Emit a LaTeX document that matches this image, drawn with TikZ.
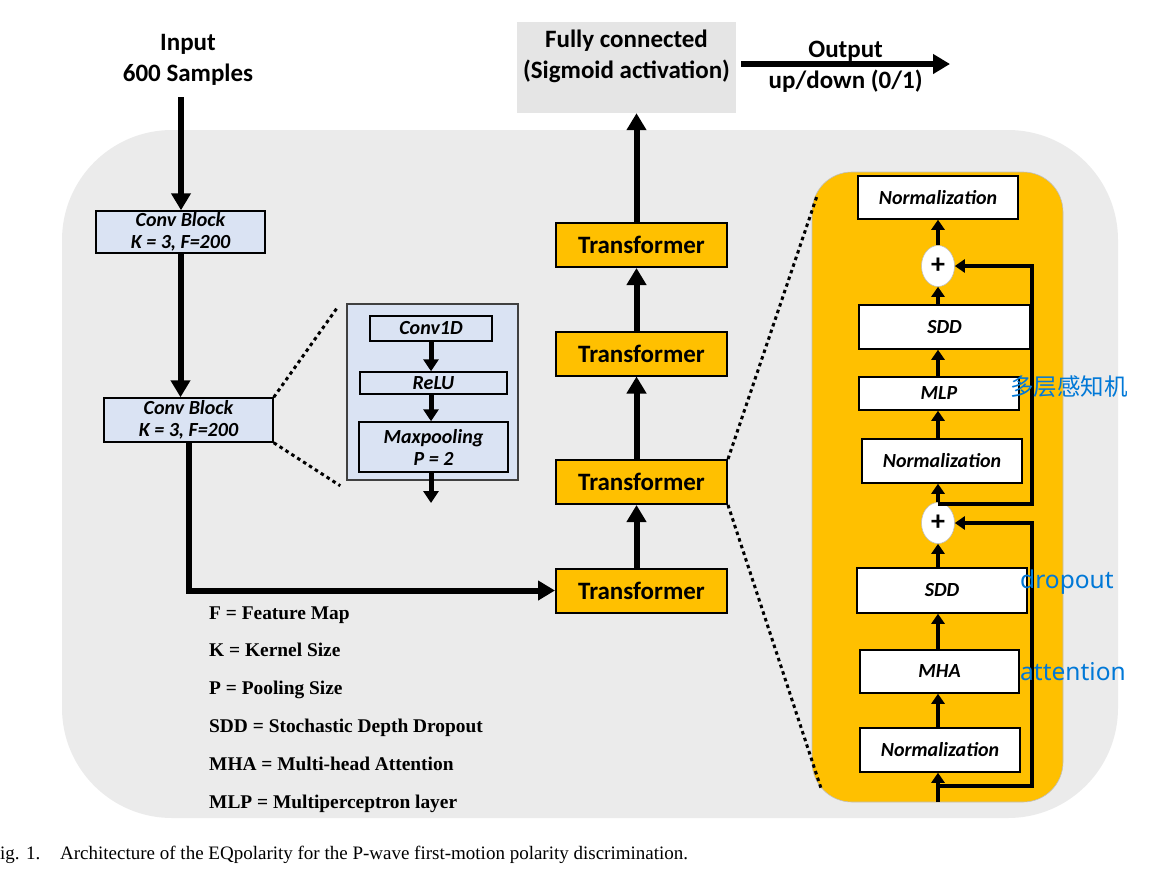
\documentclass[tikz,border=0pt]{standalone}
\usepackage{fontspec}
\setmainfont{Carlito}
\newfontfamily\legendfont{Liberation Serif}
\newfontfamily\cjk{Noto Sans CJK SC}
\newfontfamily\notefont{Noto Sans}
\usetikzlibrary{arrows.meta,shapes.geometric,calc}
\definecolor{bggray}{RGB}{235,235,235}
\definecolor{fcgray}{RGB}{229,229,229}
\definecolor{convblue}{RGB}{218,227,243}
\definecolor{tforange}{RGB}{255,192,0}
\definecolor{noteblue}{RGB}{0,120,215}
\newcommand{\headsize}{\fontsize{25}{31}\selectfont\bfseries}
\newcommand{\boxsize}{\fontsize{20}{22}\selectfont\bfseries\itshape}

\begin{document}
\begin{tikzpicture}[x=1pt, y=-1pt,
  head/.style={font=\headsize, align=center, inner sep=0pt},
  convbox/.style={draw, line width=1.5pt, fill=convblue, font=\boxsize, align=center, inner sep=0pt},
  tfbox/.style={draw, line width=2pt, fill=tforange, font=\headsize, minimum width=171pt, minimum height=44pt, inner sep=0pt},
  layer/.style={draw, line width=1.5pt, fill=white, font=\boxsize, inner sep=0pt},
  plus/.style={ellipse, draw=black!25, line width=0.6pt, fill=white, minimum width=33pt, minimum height=41pt, inner sep=0pt, font=\fontsize{28}{30}\selectfont\bfseries},
  bigarr/.style={line width=6pt, -{Triangle[length=17pt,width=19pt]}},
  midarr/.style={line width=5pt, -{Triangle[length=12pt,width=15pt]}},
  smallarr/.style={line width=4.5pt, -{Triangle[length=10pt,width=13pt]}},
  zoomline/.style={line width=3pt, dash pattern=on 3.5pt off 3.5pt},
  legend/.style={font=\legendfont\bfseries\fontsize{19.4}{22}\selectfont, anchor=base west, inner sep=0pt},
  note/.style={text=noteblue, anchor=west, inner sep=0pt}]
  \useasboundingbox (0,0) rectangle (1167,868);
  \fill[bggray, rounded corners=110pt] (62,130) rectangle (1118,818);

  % input and conv blocks
  \node[head] (inp) at (188,60) {Input\\600 Samples};
  \coordinate (inpar) at (181,97);
  \node[convbox, minimum width=169pt, minimum height=42pt] (conv1) at (180.5,232) {Conv Block\\K = 3, F=200};
  \node[convbox, minimum width=169pt, minimum height=44pt] (conv2) at (188.5,420) {Conv Block\\K = 3, F=200};
  \draw[bigarr] (inpar) -- (inpar |- conv1.north);
  \draw[bigarr] (conv1.south) -- (conv1.south |- conv2.north);

  % inside a conv block
  \node[draw=black!75, line width=1.5pt, fill=convblue, minimum width=171pt, minimum height=176pt, inner sep=0pt] (zoombox) at (432.5,392) {};
  \node[convbox, minimum width=122pt, minimum height=25pt] (c1d) at (431,328.5) {Conv1D};
  \node[convbox, minimum width=147pt, minimum height=22pt] (relu) at (433.5,383) {ReLU};
  \node[convbox, minimum width=149pt, minimum height=50pt] (pool) at (433.5,447) {Maxpooling\\P = 2};
  \coordinate (poolout) at (431,503);
  \draw[midarr] (c1d.south) -- (c1d.south |- relu.north);
  \draw[midarr] (relu.south -| c1d) -- (pool.north -| c1d);
  \draw[midarr] (pool.south -| c1d) -- (poolout);
  \draw[zoomline] (conv2.north east) -- ($(zoombox.north west)+(-8,3)$);
  \draw[zoomline] (conv2.south east) -- ($(zoombox.south west)+(-6,5)$);

  % transformers
  \node[tfbox] (t1) at (641.5,590.5) {Transformer};
  \node[tfbox] (t2) at (641.5,482) {Transformer};
  \node[tfbox] (t3) at (641.5,353.5) {Transformer};
  \node[tfbox] (t4) at (641.5,245) {Transformer};
  \draw[bigarr] (conv2.south) |- (t1.west);
  \foreach \a/\b in {t1/t2,t2/t3,t3/t4}
    \draw[bigarr] ([xshift=-5pt]\a.north) -- ([xshift=-5pt]\b.south);

  % output
  \node[fill=fcgray, minimum width=219pt, minimum height=91pt, inner sep=0pt] (fc) at (626.5,67.5) {};
  \node[head, anchor=north] (fctext) at ([yshift=-7.5pt]fc.north) {Fully connected\\(Sigmoid activation)};
  \draw[bigarr] ([xshift=-5pt]t4.north) -- ([xshift=-5pt]t4.north |- fc.south);
  \coordinate (outend) at (950,64);
  \draw[bigarr] ([shift={(5pt,3.5pt)}]fc.east) -- (outend)
    node[head, midway, above] (outtext) {Output}
    node[head, midway, below=3pt] (outval) {up/down (0/1)};

  % transformer layer
  \node[fill=tforange, draw=black!25, line width=0.6pt, rounded corners=40pt, minimum width=251pt, minimum height=630pt, inner sep=0pt] (panel) at (937.5,487) {};
  \node[layer, minimum width=160pt, minimum height=44pt] (norm1) at (940,750) {Normalization};
  \node[layer, minimum width=159pt, minimum height=43pt] (mha) at (939.5,671.5) {MHA};
  \node[layer, minimum width=170pt, minimum height=45pt] (sdd1) at (942,590.5) {SDD};
  \node[plus] (p1) at (938,523) {+};
  \node[layer, minimum width=160pt, minimum height=44pt] (norm2) at (942,461) {Normalization};
  \node[layer, minimum width=160pt, minimum height=33pt] (mlp) at (939,393.5) {MLP};
  \node[layer, minimum width=171pt, minimum height=44pt] (sdd2) at (944.5,327) {SDD};
  \node[plus] (p2) at (938,266) {+};
  \node[layer, minimum width=160pt, minimum height=43pt] (normtop) at (938,197.5) {Normalization};
  \coordinate (pin) at (938,802);
  \coordinate (s1) at (938,786);
  \coordinate (s2) at (938,504);
  \draw[smallarr] (pin) -- (pin |- norm1.south);
  \foreach \a/\b in {norm1/mha,mha/sdd1,sdd1/p1,p1/norm2,norm2/mlp,mlp/sdd2,sdd2/p2,p2/normtop}
    \draw[smallarr] (\a.north -| pin) -- (\b.south -| pin);
  \draw[smallarr] (s1) -- ++(94,0) |- (p1.east);
  \draw[smallarr] (s2) -- ++(94,0) |- (p2.east);
  \draw[zoomline] (t2.north east) -- ($(panel.north west)+(5,25)$);
  \draw[zoomline] (t2.south east) -- ($(panel.south west)+(10,-12)$);

  \node[note, font=\cjk\fontsize{23.5}{26}\selectfont] (mlpnote) at (1010,387) {多层感知机};
  \node[note, font=\notefont\fontsize{24.5}{28}\selectfont] (sddnote) at (1020,582) {dropout};
  \node[note, font=\notefont\fontsize{24.5}{28}\selectfont] (mhanote) at (1020,672) {attention};

  % legend and caption
  \foreach \txt [count=\i from 0] in {F = Feature Map, K = Kernel Size, P = Pooling Size,
      SDD = Stochastic Depth Dropout, MHA = Multi-head Attention, MLP = Multiperceptron layer}
    \node[legend] (leg\i) at (209,619+37.8*\i) {\txt};
  \node[anchor=base west, inner sep=0pt, font=\legendfont\fontsize{19}{22}\selectfont] (fignum) at (0,859) {ig. 1.};
  \node[anchor=base west, inner sep=0pt, font=\legendfont\fontsize{19}{22}\selectfont] (caption) at (60,859)
    {Architecture of the EQpolarity for the P-wave first-motion polarity discrimination.};
\end{tikzpicture}
\end{document}
